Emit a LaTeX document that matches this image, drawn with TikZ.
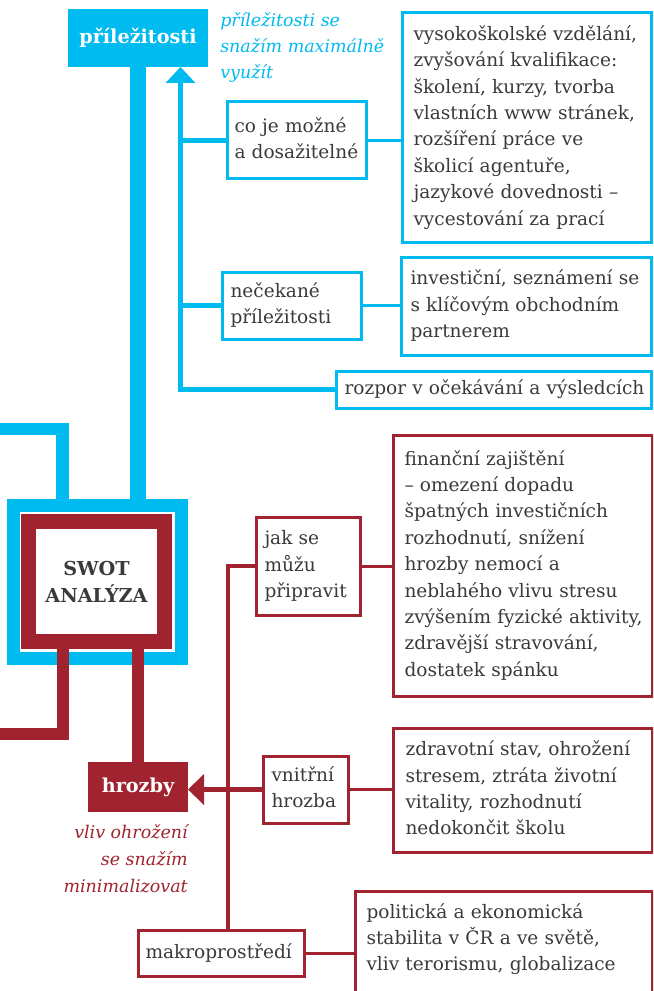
\documentclass[tikz,border=0pt]{standalone}
\usepackage{fontspec}
\setmainfont{DejaVu Serif}
\usetikzlibrary{arrows.meta}
\definecolor{cy}{RGB}{0,187,240}
\definecolor{mr}{RGB}{161,35,47}
\definecolor{tx}{RGB}{58,58,58}
\newcommand\tlines[1]{\begin{tabular}{@{}l@{}}#1\end{tabular}}
\newcommand\rlines[1]{\begin{tabular}{@{}r@{}}#1\end{tabular}}
\begin{document}
\begin{tikzpicture}[x=0.75pt,y=-0.75pt,
  txt/.style={font=\fontsize{13.9}{19.8}\selectfont, text=tx},
  boxbase/.style={txt, anchor=north west, line width=2.25pt, fill=white, align=left, inner ysep=0pt},
  cbox/.style={boxbase, draw=cy},
  rbox/.style={boxbase, draw=mr},
  dims/.style n args={4}{minimum width=#1, minimum height=#2, inner xsep=#3, text width=#4},
  label box/.style={anchor=north west, inner sep=0pt, outer sep=0pt, text=white, font=\fontsize{14.4}{16}\selectfont\bfseries},
  cytrunk/.style={draw=cy, line width=4.125pt, line join=miter},
  cythin/.style={draw=cy, line width=2.25pt},
  cythick/.style={draw=cy, line width=12pt},
  cymed/.style={draw=cy, line width=9.5pt, line join=miter},
  mrtrunk/.style={draw=mr, line width=3pt, line join=miter},
  mrline/.style={draw=mr, line width=3.75pt},
  mrthin/.style={draw=mr, line width=2.25pt},
  mrthick/.style={draw=mr, line width=9.5pt, line join=miter},
]
\fill[white] (0,0) rectangle (653,991);
\useasboundingbox (0,0) rectangle (653,991);
\clip (0,0) rectangle (653,991);

\coordinate (ax) at (180.5,0);
\coordinate (rx) at (228,0);
\coordinate (lx) at (62.75,0);
\coordinate (rlx) at (63,0);
\coordinate (cl) at (-10,429);
\coordinate (crl) at (-10,734);

% opportunities
\node[label box, fill=cy, minimum width=105pt, minimum height=43.5pt] (pril) at (68,9) {příležitosti};
\node[anchor=north west, inner sep=0pt, text=cy, font=\fontsize{13.1}{19.65}\selectfont\itshape] (prilnote) at (220,7.5) {\tlines{příležitosti se\\snažím maximálně\\využít}};

\node[cbox, dims={104.25pt}{57.75pt}{5.625pt}{93pt}] (co) at (225.5,100.5) {\tlines{co je možné\\a dosažitelné}};
\node[cbox, dims={186.75pt}{171.75pt}{8.625pt}{169.5pt}] (big1) at (400.5,11.5) {\tlines{vysokoškolské vzdělání,\\zvyšování kvalifikace:\\školení, kurzy, tvorba\\vlastních www stránek,\\rozšíření práce ve\\školicí agentuře,\\jazykové dovednosti –\\vycestování za prací}};
\node[cbox, dims={104.25pt}{50.25pt}{6.375pt}{91.5pt}] (nec) at (220.5,270.5) {\tlines{nečekané\\příležitosti}};
\node[cbox, dims={187.5pt}{73.5pt}{7.125pt}{173.25pt}] (big2) at (399.5,255.5) {\tlines{investiční, seznámení se\\s klíčovým obchodním\\partnerem}};
\node[cbox, dims={236.25pt}{27.75pt}{6.375pt}{223.5pt}] (rozpor) at (334.5,369.5) {\tlines{rozpor v očekávání a výsledcích}};

\draw[cytrunk, -{Triangle[width=21.75pt, length=12pt]}] (rozpor.west) -| (ax |- pril.south);
\draw[cytrunk] (ax |- co.west) -- (co.west);
\draw[cytrunk] (ax |- nec.west) -- (nec.west);
\draw[cythin] (co.east) -- (co.east -| big1.west);
\draw[cythin] (nec.east) -- (nec.east -| big2.west);

% SWOT
\node[draw=cy, line width=10pt, minimum width=126pt, minimum height=114.75pt, inner sep=0pt] (swotout) at (97.5,582) {};
\node[draw=mr, line width=11.25pt, fill=white, minimum width=102pt, minimum height=90pt, inner sep=0pt, align=center, text=tx, font=\fontsize{14.4}{20.25}\selectfont\bfseries] (swot) at (96.5,581.5) {SWOT\\ANALÝZA};
\draw[cythick] (pril.south) -- (pril.south |- swotout.north);
\draw[cymed] (cl) -| (lx |- swotout.north);

% threats
\node[label box, fill=mr, minimum width=75pt, minimum height=37.5pt] (hrozby) at (88,762) {hrozby};
\node[anchor=north east, inner sep=0pt, text=mr, font=\fontsize{13.1}{20.25}\selectfont\itshape] (hnote) at (188,819) {\rlines{vliv ohrožení\\se snažím\\minimalizovat}};

\draw[mrthick] (swot.south -| rlx) |- (crl);
\draw[mrthick] (swot.south -| hrozby.north) -- (hrozby.north);

\node[rbox, dims={78pt}{73.5pt}{6.375pt}{65.25pt}] (jak) at (254.5,515.5) {\tlines{jak se\\můžu\\připravit}};
\node[rbox, dims={194.25pt}{195.75pt}{8.625pt}{177pt}] (red1) at (391.5,433.5) {\tlines{finanční zajištění\\– omezení dopadu\\špatných investičních\\rozhodnutí, snížení\\hrozby nemocí a\\neblahého vlivu stresu\\zvýšením fyzické aktivity,\\zdravější stravování,\\dostatek spánku}};
\node[rbox, dims={63.75pt}{50.25pt}{6.375pt}{51pt}] (vnit) at (261.5,754.5) {\tlines{vnitřní\\hrozba}};
\node[rbox, dims={194.25pt}{93pt}{9.375pt}{175.5pt}] (red2) at (391.5,726.5) {\tlines{zdravotní stav, ohrožení\\stresem, ztráta životní\\vitality, rozhodnutí\\nedokončit školu}};
\node[rbox, dims={124.5pt}{34.5pt}{5.625pt}{113.25pt}] (makro) at (136.5,928.5) {\tlines{makroprostředí}};
\node[rbox, dims={222.75pt}{96.75pt}{8.625pt}{205.5pt}] (red3) at (353.5,889.5) {\tlines{politická a ekonomická\\stabilita v ČR a ve světě,\\vliv terorismu, globalizace\\[24.45pt]}};

\draw[mrtrunk] (jak.west) -| (rx |- makro.north);
\draw[mrline, -{Triangle[width=22.5pt, length=12pt]}] (vnit.west) -- (vnit.west -| hrozby.east);
\draw[mrthin] (jak.east) -- (jak.east -| red1.west);
\draw[mrthin] (vnit.east) -- (vnit.east -| red2.west);
\draw[mrthin] (makro.east) -- (makro.east -| red3.west);
\end{tikzpicture}
\end{document}
